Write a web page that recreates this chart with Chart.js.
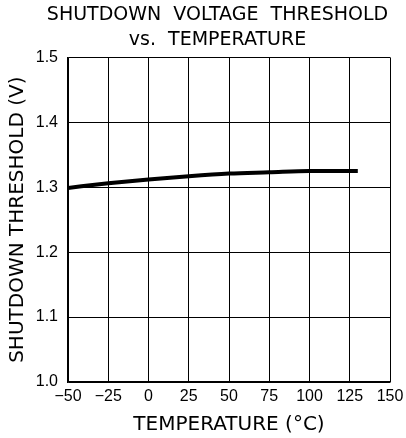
<!DOCTYPE html>
<html>
<head>
<meta charset="utf-8">
<script src="https://cdn.jsdelivr.net/npm/chart.js@4"></script>
<style>
  html, body { margin: 0; padding: 0; background: #fff; }
  #wrap { width: 406px; height: 438px; }
</style>
</head>
<body>
<div id="wrap"><canvas id="thresholdChart" width="406" height="438"></canvas></div>
<script>
// temperature (°C) and shutdown threshold (V)
var temps = [-50, -25, 0, 25, 50, 75, 100, 125, 130];
var threshold = [1.299, 1.306, 1.312, 1.317, 1.321, 1.323, 1.325, 1.325, 1.325];
var xTicks = [-50, -25, 0, 25, 50, 75, 100, 125, 150];
var yTicks = [1.0, 1.1, 1.2, 1.3, 1.4, 1.5];

var font = 'DejaVu Sans';
var tickFont = 'Liberation Sans';

var points = temps.map(function (t, i) { return { x: t, y: threshold[i] }; });

// title in the original sits a bit right of the canvas centre
var shiftTitle = {
    id: 'shiftTitle',
    afterLayout: function (chart) {
        if (chart.titleBlock) chart.titleBlock.left += 41;
    }
};

var ctx = document.getElementById('thresholdChart').getContext('2d');
var thresholdChart = new Chart(ctx, {
    type: 'line',
    data: {
        datasets: [
            {
                data: points,
                borderColor: '#000',
                borderWidth: 4,
                pointRadius: 0,
                cubicInterpolationMode: 'monotone',
                fill: false
            }
        ]
    },
    plugins: [shiftTitle],
    options: {
        responsive: false,
        animation: false,
        devicePixelRatio: 1,
        layout: {
            padding: { left: 4, right: 16, top: 0, bottom: 1 }
        },
        plugins: {
            legend: { display: false },
            tooltip: { enabled: false },
            title: {
                display: true,
                text: ['SHUTDOWN  VOLTAGE  THRESHOLD', 'vs.  TEMPERATURE'],
                color: '#000',
                font: { family: font, size: 19, weight: 'normal', lineHeight: 1.3 },
                padding: { top: 3, bottom: 5 }
            }
        },
        scales: {
            x: {
                type: 'linear',
                min: -50,
                max: 150,
                afterBuildTicks: function (scale) {
                    scale.ticks = xTicks.map(function (v) { return { value: v }; });
                },
                afterFit: function (scale) {
                    scale.height = 55;
                    scale.paddingRight = 0;
                },
                grid: { color: '#000', lineWidth: 1, drawTicks: false },
                border: { color: '#000', width: 1.5 },
                ticks: {
                    color: '#000',
                    padding: 5,
                    maxRotation: 0,
                    font: { family: tickFont, size: 16 },
                    callback: function (v) { return String(v).replace('-', '\u2212'); }
                },
                title: {
                    display: true,
                    text: 'TEMPERATURE (°C)',
                    color: '#000',
                    font: { family: font, size: 20 },
                    padding: { top: 4, bottom: 0 }
                }
            },
            y: {
                min: 1.0,
                max: 1.5,
                afterBuildTicks: function (scale) {
                    scale.ticks = yTicks.map(function (v) { return { value: v }; });
                },
                afterFit: function (scale) { scale.width = 64; },
                grid: { color: '#000', lineWidth: 1, drawTicks: false },
                border: { color: '#000', width: 1.5 },
                ticks: {
                    color: '#000',
                    padding: 10,
                    font: { family: tickFont, size: 16 },
                    callback: function (v) { return Number(v).toFixed(1); }
                },
                title: {
                    display: true,
                    text: 'SHUTDOWN THRESHOLD (V)',
                    color: '#000',
                    font: { family: font, size: 20 },
                    padding: { top: 2, bottom: 4 }
                }
            }
        }
    }
});
</script>
</body>
</html>
